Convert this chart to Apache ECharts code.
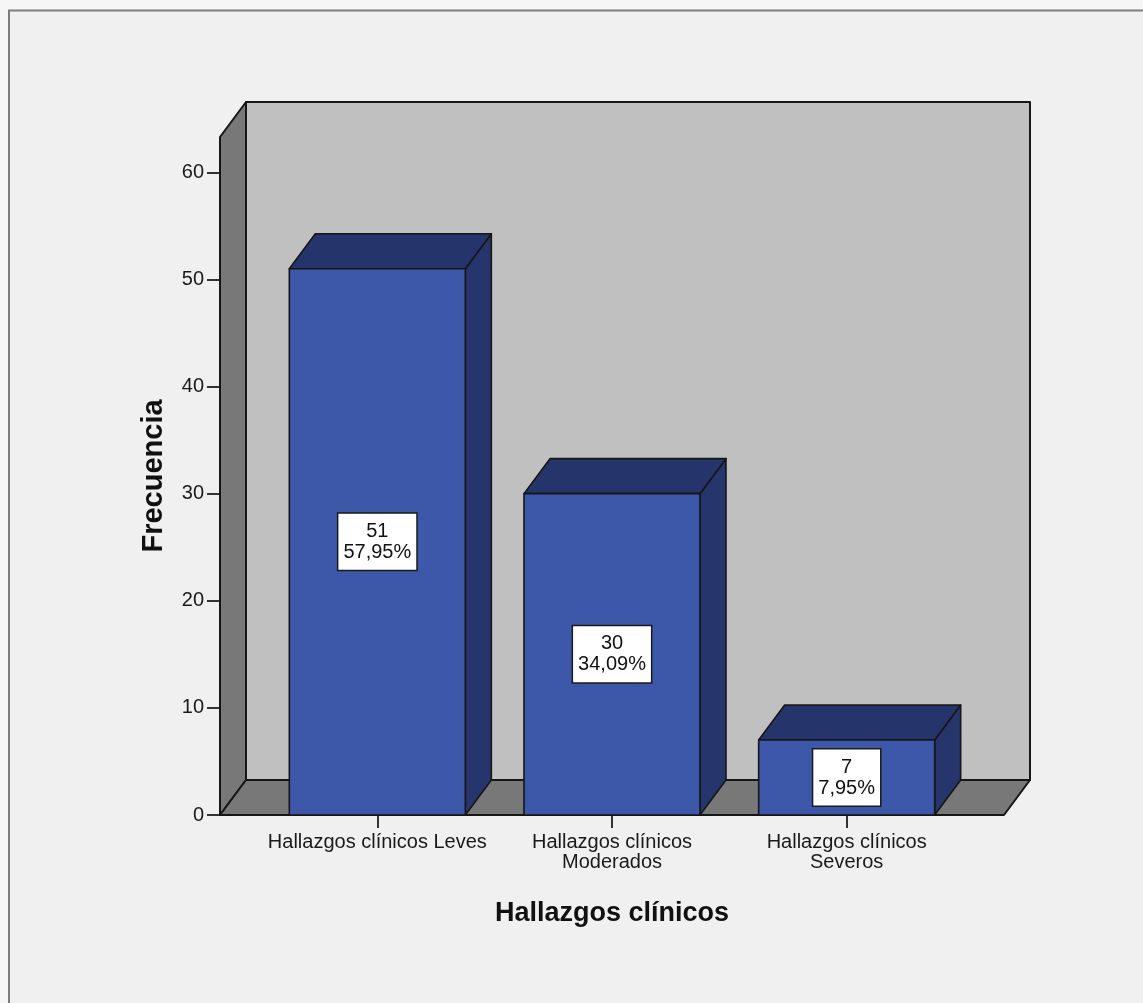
<!DOCTYPE html>
<html><head><meta charset="utf-8">
<script src="https://cdn.jsdelivr.net/npm/echarts@6/dist/echarts.min.js"></script>
<style>html,body{margin:0;padding:0;background:#f6f6f6}#c{width:1143px;height:1003px}</style>
</head><body><div id="c"></div>
<script>
// ---- data ----
const categories = ['Hallazgos clínicos Leves', 'Hallazgos clínicos Moderados', 'Hallazgos clínicos Severos'];
const frequencies = [51, 30, 7];
const percentLabels = ['57,95%', '34,09%', '7,95%'];
const yTickValues = [0, 10, 20, 30, 40, 50, 60];
const yWallTop = 63.3;
const xTitle = 'Hallazgos clínicos';
const yTitle = 'Frecuencia';

// ---- style ----
const FONT = '"Liberation Sans", Arial, sans-serif';
const DX = 26, DY = -35, PAD = 40;
const C_FRONT = '#3d57a9', C_TOP = '#25346b', C_SIDE = '#26366d';
const C_BACK = '#c0c0c0', C_WALL = '#787878', C_LINE = '#161616';

const chart = echarts.init(document.getElementById('c'), null, { renderer: 'canvas' });

function wallsRender(params, api) {
  const cs = params.coordSys;
  const x0 = cs.x - PAD, x1 = cs.x + cs.width + PAD;
  const yb = api.coord([0, 0])[1];
  const yt = api.coord([0, yWallTop])[1];
  const ls = { stroke: C_LINE, lineWidth: 2, lineJoin: 'round' };
  return {
    type: 'group',
    children: [
      { type: 'polygon', shape: { points: [[x0 + DX, yt + DY], [x1 + DX, yt + DY], [x1 + DX, yb + DY], [x0 + DX, yb + DY]] },
        style: Object.assign({ fill: C_BACK }, ls) },
      { type: 'polygon', shape: { points: [[x0, yb], [x0, yt], [x0 + DX, yt + DY], [x0 + DX, yb + DY]] },
        style: Object.assign({ fill: C_WALL }, ls) },
      { type: 'polygon', shape: { points: [[x0, yb], [x0 + DX, yb + DY], [x1 + DX, yb + DY], [x1, yb]] },
        style: Object.assign({ fill: C_WALL }, ls) }
    ]
  };
}

function barRender(params, api) {
  const idx = api.value(0), v = api.value(1);
  const p0 = api.coord([idx, 0]), p1 = api.coord([idx, v]);
  const w = api.size([1, 0])[0] * 0.75;
  const xl = p0[0] - w / 2, xr = xl + w;
  const yb = p0[1], yt = p1[1];
  const ls = { stroke: C_LINE, lineWidth: 1.6, lineJoin: 'round' };
  return {
    type: 'group',
    children: [
      { type: 'polygon', shape: { points: [[xr, yt], [xr + DX, yt + DY], [xr + DX, yb + DY], [xr, yb]] },
        style: Object.assign({ fill: C_SIDE }, ls) },
      { type: 'polygon', shape: { points: [[xl, yt], [xl + DX, yt + DY], [xr + DX, yt + DY], [xr, yt]] },
        style: Object.assign({ fill: C_TOP }, ls) },
      { type: 'rect', shape: { x: xl, y: yt, width: w, height: yb - yt },
        style: Object.assign({ fill: C_FRONT }, ls) },
      { type: 'text', x: p0[0], y: (yb + yt) / 2,
        style: {
          text: v + '\n' + percentLabels[params.dataIndex],
          fontSize: 20, lineHeight: 21, fontFamily: FONT, fill: '#111',
          align: 'center', verticalAlign: 'middle',
          backgroundColor: '#ffffff', borderColor: '#1a1a1a', borderWidth: 1.5,
          padding: [8, 5, 6, 5]
        } }
    ]
  };
}

const option = {
  backgroundColor: '#f6f6f6',
  animation: false,
  graphic: [{
    type: 'rect', z: -100, silent: true,
    shape: { x: 9, y: 10.5, width: 1400, height: 1400 },
    style: { fill: '#f0f0f0', stroke: '#7c7c7c', lineWidth: 2 }
  }],
  grid: { left: 260, right: 179, top: 137, bottom: 188 },
  xAxis: {
    type: 'category',
    data: categories,
    axisLine: { show: false },
    axisTick: { show: true, alignWithLabel: true, length: 13, lineStyle: { color: '#333', width: 2 } },
    axisLabel: { interval: 0, fontSize: 20, lineHeight: 20,
      formatter: (v) => v.length > 24 ? v.replace(/ (\S+)$/, '\n$1') : v,
      margin: 17, color: '#1a1a1a', fontFamily: FONT },
    splitLine: { show: false },
    name: xTitle, nameLocation: 'middle', nameGap: 85,
    nameTextStyle: { fontSize: 27, fontWeight: 'bold', color: '#111', fontFamily: FONT }
  },
  yAxis: {
    type: 'value', min: 0, max: yWallTop, offset: PAD,
    axisLine: { show: false },
    axisTick: { show: true, length: 13, customValues: yTickValues, lineStyle: { color: '#333', width: 2 } },
    axisLabel: { customValues: yTickValues, fontSize: 20, margin: 16, color: '#1a1a1a', fontFamily: FONT,
      padding: [6, 0, 0, 0] },
    splitLine: { show: false },
    name: yTitle, nameLocation: 'middle', nameGap: 52, nameRotate: 90,
    nameTextStyle: { fontSize: 29, fontWeight: 'bold', color: '#111', fontFamily: FONT }
  },
  series: [
    { type: 'custom', name: 'walls', clip: false, silent: true, z: 1,
      renderItem: wallsRender, data: [[0, 0]], encode: { x: 0, y: 1 } },
    { type: 'custom', name: 'Frecuencia', clip: false, z: 2,
      renderItem: barRender, data: frequencies.map((v, i) => [i, v]), encode: { x: 0, y: 1 } }
  ]
};
chart.setOption(option);
</script>
</body></html>
